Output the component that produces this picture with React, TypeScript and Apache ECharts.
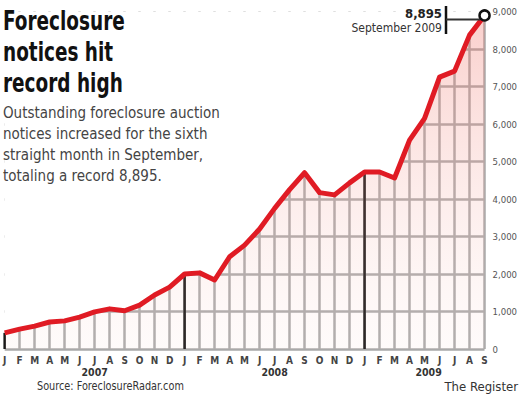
import React, { useEffect, useRef } from "react";
import * as echarts from "echarts";

const monthLabels = [
  "J", "F", "M", "A", "M", "J", "J", "A", "S", "O", "N", "D",
  "J", "F", "M", "A", "M", "J", "J", "A", "S", "O", "N", "D",
  "J", "F", "M", "A", "M", "J", "J", "A", "S",
];
const notices = [
  430, 530, 610, 720, 750, 850, 990, 1070, 1020, 1170, 1440, 1650,
  2000, 2030, 1840, 2460, 2770, 3200, 3750, 4250, 4700, 4170, 4110, 4430,
  4720, 4720, 4560, 5570, 6150, 7250, 7410, 8370, 8895,
];
const yearLabels = ["2007", "2008", "2009"];
const yearLabelIndex = [6, 18, 28];
const januaryIndex = [0, 12, 24];
const yMax = 9000;
const yInterval = 1000;

const titleLines = ["Foreclosure", "notices hit", "record high"];
const subtitleLines = [
  "Outstanding foreclosure auction",
  "notices increased for the sixth",
  "straight month in September,",
  "totaling a record 8,895.",
];
const calloutValue = "8,895";
const calloutDate = "September 2009";
const sourceText = "Source: ForeclosureRadar.com";
const creditText = "The Register";

const FONT = '"DejaVu Sans Condensed", "Liberation Sans Narrow", "Roboto Condensed", sans-serif';

export default function App() {
  const ref = useRef<HTMLDivElement>(null);
  useEffect(() => {
    document.body.style.margin = "0";
    const chart = echarts.init(ref.current!, null, { renderer: "svg" });
    const categories = monthLabels.map((_, i) => String(i));
    const last = notices.length - 1;
    const lineData = notices.map((v, i) =>
      i === last
        ? {
            value: v,
            symbol: "circle",
            symbolSize: 10,
            itemStyle: { color: "#fff", borderColor: "#111", borderWidth: 2.5 },
          }
        : { value: v, symbol: "none" }
    );
    const cover = notices.map((v) => yMax - v);
    const janBars = notices.map((v, i) => (januaryIndex.includes(i) ? v : "-"));

    chart.setOption({
      animation: false,
      backgroundColor: "#fff",
      grid: { left: 3, right: 34, top: 11.5, bottom: 46, containLabel: false },
      xAxis: {
        type: "category",
        data: categories,
        boundaryGap: false,
        axisLine: { show: false },
        axisTick: { show: false },
        splitLine: {
          show: true,
          interval: 0,
          showMinLine: false,
          lineStyle: { color: "#a9a9a9", width: 2.5 },
        },
        axisLabel: {
          interval: 0,
          margin: 5,
          fontFamily: FONT,
          fontSize: 10,
          fontWeight: "bold",
          color: "#444",
          lineHeight: 12,
          formatter: (val: string) => {
            const i = Number(val);
            const k = yearLabelIndex.indexOf(i);
            if (k < 0) return monthLabels[i];
            const style = k === 2 ? "yrShift" : "yr";
            return `${monthLabels[i]}\n{${style}|${yearLabels[k]}}`;
          },
          rich: {
            yr: { fontFamily: FONT, fontSize: 10.5, fontWeight: "bold", color: "#333", lineHeight: 12 },
            yrShift: {
              fontFamily: FONT,
              fontSize: 10.5,
              fontWeight: "bold",
              color: "#333",
              lineHeight: 12,
              padding: [0, 0, 0, 8],
            },
          },
        },
      },
      yAxis: {
        type: "value",
        position: "right",
        min: 0,
        max: yMax,
        interval: yInterval,
        axisLine: { show: false },
        axisTick: { show: false },
        splitLine: { show: true, showMaxLine: false, lineStyle: { color: "#a9a9a9", width: 2.5 } },
        axisLabel: {
          margin: 8,
          fontFamily: FONT,
          fontSize: 9.5,
          color: "#555",
          formatter: (v: number) => v.toLocaleString("en-US"),
        },
      },
      series: [
        {
          type: "bar",
          data: janBars,
          barWidth: 2.5,
          itemStyle: { color: "#111" },
          z: 3,
        },
        {
          type: "line",
          data: lineData,
          stack: "total",
          lineStyle: { color: "#e01b24", width: 5, join: "round" },
          itemStyle: { color: "#e01b24" },
          areaStyle: {
            color: new echarts.graphic.LinearGradient(0, 0, 0, 1, [
              { offset: 0, color: "rgba(240,120,110,0.5)" },
              { offset: 1, color: "rgba(250,215,210,0.15)" },
            ]),
          },
          z: 5,
        },
        {
          type: "line",
          data: cover,
          stack: "total",
          symbol: "none",
          lineStyle: { width: 0 },
          areaStyle: { color: "#fff", opacity: 1 },
          z: 2,
          silent: true,
        },
      ],
      graphic: [
        {
          type: "text",
          left: 3,
          top: 5,
          z: 100,
          scaleX: 0.76,
          style: {
            text: titleLines.join("\n"),
            fontFamily: FONT,
            fontSize: 27,
            fontWeight: "bold",
            lineHeight: 31,
            fill: "#111",
          },
        },
        {
          type: "text",
          left: 3,
          top: 102,
          z: 100,
          style: {
            text: subtitleLines.join("\n"),
            fontFamily: FONT,
            fontSize: 15,
            lineHeight: 21,
            fill: "#444",
          },
        },
        {
          type: "text",
          x: 442,
          y: 13,
          z: 100,
          style: {
            text: calloutValue,
            align: "right",
            verticalAlign: "middle",
            fontFamily: FONT,
            fontSize: 13,
            fontWeight: "bold",
            fill: "#222",
          },
        },
        {
          type: "text",
          x: 442,
          y: 28,
          z: 100,
          style: {
            text: calloutDate,
            align: "right",
            verticalAlign: "middle",
            fontFamily: FONT,
            fontSize: 12,
            fill: "#333",
          },
        },
        {
          type: "line",
          z: 100,
          shape: { x1: 446, y1: 6, x2: 446, y2: 34 },
          style: { stroke: "#111", lineWidth: 2.5 },
        },
        {
          type: "line",
          z: 100,
          shape: { x1: 446, y1: 19.5, x2: 480, y2: 19.5 },
          style: { stroke: "#333", lineWidth: 2 },
        },
        {
          type: "text",
          x: 37,
          y: 386,
          z: 100,
          scaleX: 0.9,
          style: {
            text: sourceText,
            verticalAlign: "middle",
            fontFamily: FONT,
            fontSize: 12,
            fill: "#333",
          },
        },
        {
          type: "text",
          x: 518,
          y: 386,
          z: 100,
          style: {
            text: creditText,
            align: "right",
            verticalAlign: "middle",
            fontFamily: FONT,
            fontSize: 13,
            fill: "#333",
          },
        },
      ],
    });
    return () => chart.dispose();
  }, []);
  return <div ref={ref} style={{ width: 520, height: 395 }} />;
}
